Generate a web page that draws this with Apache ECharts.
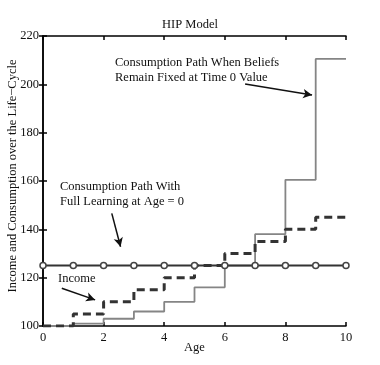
<!DOCTYPE html>
<html><head><meta charset="utf-8">
<script src="https://cdn.jsdelivr.net/npm/echarts@6/dist/echarts.min.js"></script>
<style>html,body{margin:0;padding:0;background:#fff}#c{width:380px;height:365px}</style>
</head><body><div id="c"></div>
<script>
var ages = [0,1,2,3,4,5,6,7,8,9,10];
var consumptionFixed = [100,101,103,106,110,116,125,138,160.5,210.5,210.5];
var income = [100,105,110,115,120,125,130,135,140,145,145];
var fullLearning = [125,125,125,125,125,125,125,125,125,125,125];
var xTicks = [0,2,4,6,8,10];
var yTicks = [100,120,140,160,180,200,220];

function pairs(v){ return ages.map(function(a,i){ return [a, v[i]]; }); }
var F = 'Liberation Serif';
var chart = echarts.init(document.getElementById('c'));
var axisCommon = {
  axisLine:{show:true,lineStyle:{color:'#000',width:1.5}},
  axisTick:{show:true,inside:true,length:4,lineStyle:{color:'#000',width:1.5}},
  splitLine:{show:false}
};
chart.setOption({
  animation:false,
  backgroundColor:'#fff',
  title:{text:'HIP Model',left:'center',top:13,textStyle:{fontFamily:F,fontSize:12.5,fontWeight:'normal',color:'#111'}},
  grid:{left:43,right:34,top:36,bottom:39,containLabel:false,outerBoundsMode:'none'},
  xAxis:[
    Object.assign({type:'value',min:0,max:10,interval:2,name:'Age',nameLocation:'middle',nameGap:15,nameMoveOverlap:false,
      nameTextStyle:{fontFamily:F,fontSize:12.5,color:'#111'},
      axisLabel:{fontFamily:F,fontSize:12.5,color:'#111',margin:5}},axisCommon),
    Object.assign({type:'value',min:0,max:10,interval:2,position:'top',axisLabel:{show:false}},axisCommon)
  ],
  yAxis:[
    Object.assign({type:'value',min:100,max:220,interval:20,name:'Income and Consumption over the Life\u2212Cycle',
      nameLocation:'middle',nameGap:24,nameMoveOverlap:false,nameTextStyle:{fontFamily:F,fontSize:12.5,color:'#111',padding:[0,0,0,10]},
      axisLabel:{fontFamily:F,fontSize:12.5,color:'#111',margin:4}},axisCommon),
    Object.assign({type:'value',min:100,max:220,interval:20,position:'right',axisLabel:{show:false}},axisCommon)
  ],
  series:[
    {type:'line',step:'end',data:pairs(consumptionFixed),symbol:'none',lineStyle:{color:'#858585',width:1.8},z:2,
     markLine:{silent:true,symbol:['none','arrow'],symbolSize:[7,9],label:{show:false},lineStyle:{color:'#111',width:1.5,type:'solid'},
       data:[
        [{coord:[6.67,200.1]},{coord:[8.88,195.6]}],
        [{coord:[2.27,146.6]},{coord:[2.56,132.8]}],
        [{coord:[0.62,115.6]},{coord:[1.72,110.8]}]
       ]}},
    {type:'line',step:'end',data:pairs(income),symbol:'none',lineStyle:{color:'#333',width:3,type:[8,5]},z:3},
    {type:'line',data:pairs(fullLearning),symbol:'circle',symbolSize:6,showSymbol:true,
     itemStyle:{color:'#fff',borderColor:'#444',borderWidth:1.5},lineStyle:{color:'#333',width:2},z:4}
  ],
  graphic:[
    {type:'text',left:115,top:55,style:{text:'Consumption Path When Beliefs\nRemain Fixed at Time 0 Value',font:'12.5px "Liberation Serif"',fill:'#111',lineHeight:15}},
    {type:'text',left:60,top:179,style:{text:'Consumption Path With\nFull Learning at Age = 0',font:'12.5px "Liberation Serif"',fill:'#111',lineHeight:15}},
    {type:'text',left:58,top:272,style:{text:'Income',font:'12.5px "Liberation Serif"',fill:'#111'}}
  ]
});
</script></body></html>
